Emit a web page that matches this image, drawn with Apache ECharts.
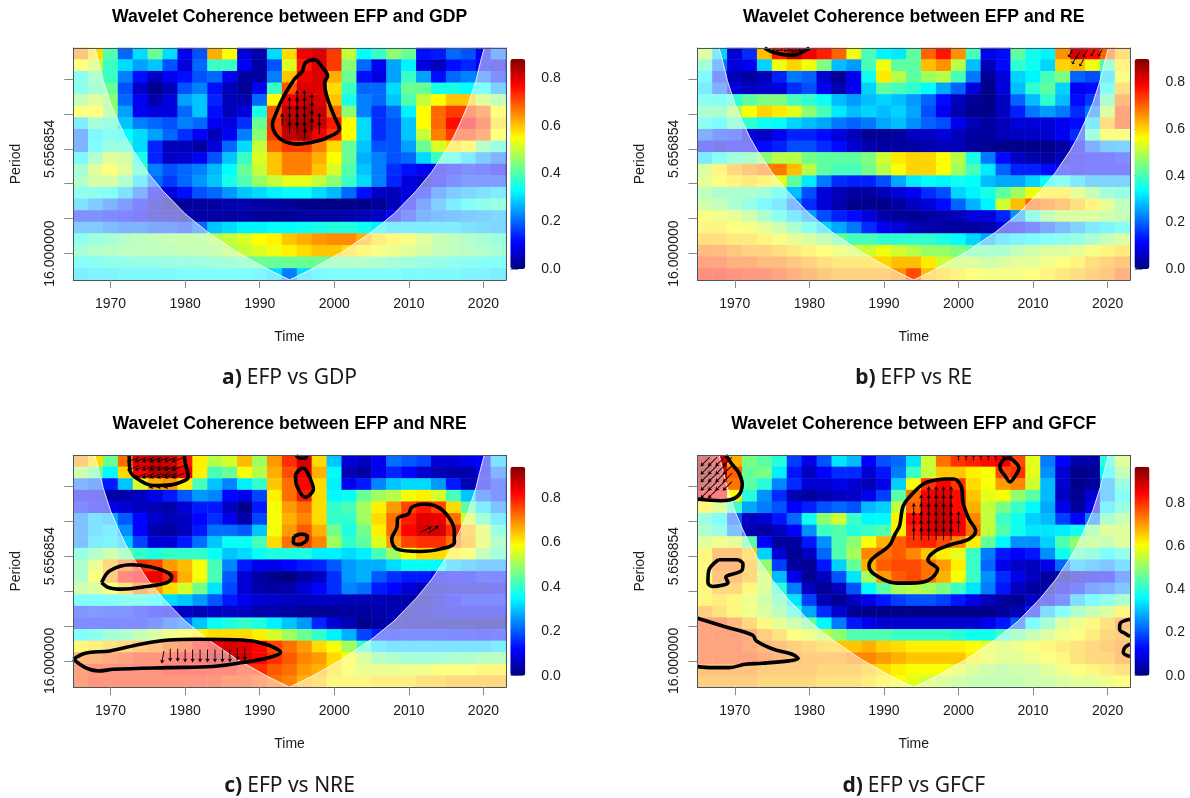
<!DOCTYPE html>
<html><head><meta charset="utf-8">
<style>html,body{margin:0;padding:0;background:#fff}#c{width:1190px;height:798px}</style>
<script src="https://cdn.jsdelivr.net/npm/echarts@6/dist/echarts.min.js"></script>
</head><body><div id="c"></div>
<script>
// Cell bands (centre year of each 2-year column, centre log2(period) of each row)
const yearBands=[1966,1968,1970,1972,1974,1976,1978,1980,1982,1984,1986,1988,1990,1992,1994,1996,1998,2000,2002,2004,2006,2008,2010,2012,2014,2016,2018,2020,2022];
const periodBands=[1.14,1.31,1.47,1.64,1.80,1.97,2.14,2.30,2.47,2.63,2.80,2.97,3.13,3.30,3.46,3.63,3.80,3.96,4.13,4.29];
const xTicks=[1970,1980,1990,2000,2010,2020];
const yTicks=[1.5,2,2.5,3,3.5,4];
const yLabels=[2.5,4];
const barTicks=[0,0.2,0.4,0.6,0.8];
// coherence in hundredths, one row per period band
const gdpCoherence=[
[65,58,40,20,30,42,30,10,18,62,55,8,4,30,58,78,80,72,50,33,38,45,42,12,13,20,18,10,20],
[55,50,38,30,25,28,18,8,20,38,38,10,3,18,52,75,80,72,45,20,10,25,32,8,5,12,14,10,8],
[35,42,38,22,12,6,10,12,18,20,10,3,3,22,60,78,80,62,42,12,8,25,38,25,12,20,22,20,14],
[36,40,42,18,6,1,5,18,22,12,5,2,10,38,70,80,80,58,38,20,20,30,42,42,35,35,33,33,25],
[45,50,45,20,10,4,8,25,28,14,5,4,20,55,78,82,80,60,35,22,20,28,40,50,55,60,60,50,45],
[55,55,45,25,10,8,8,20,28,12,5,8,35,70,82,84,82,68,45,22,15,20,32,55,68,72,72,68,55],
[30,40,38,28,22,20,18,22,20,10,8,15,42,72,84,85,82,75,55,30,15,18,28,55,68,76,78,72,58],
[20,32,35,33,30,25,20,15,10,5,10,22,45,72,82,84,78,72,55,30,15,18,28,50,66,72,72,68,55],
[20,33,38,38,30,14,5,5,3,8,20,30,50,68,72,72,66,58,42,28,18,18,25,42,52,58,56,42,38],
[32,42,50,48,35,14,6,7,10,18,28,38,52,60,66,66,62,55,42,26,22,18,20,30,38,36,30,24,20],
[40,50,55,50,38,22,18,20,22,27,33,42,50,60,66,66,60,52,40,28,22,15,12,10,10,12,14,13,10],
[42,48,48,42,30,20,16,20,24,28,35,40,46,50,53,53,50,45,38,30,22,14,8,6,10,14,16,16,16],
[36,36,34,28,20,10,8,12,18,20,24,28,30,32,33,33,30,27,20,12,6,5,8,12,20,24,26,28,30],
[28,24,20,16,12,6,3,2,3,3,4,4,3,3,2,1,1,1,1,1,2,5,10,18,25,30,34,36,38],
[14,14,13,12,10,6,5,4,3,3,3,3,2,2,2,3,3,3,4,5,6,10,15,20,22,23,24,25,26],
[24,24,22,20,20,18,18,16,20,28,30,32,32,33,33,34,35,36,36,34,32,30,30,30,30,30,28,27,26],
[36,38,40,42,44,45,46,46,46,48,50,52,55,56,60,62,64,65,65,62,58,56,54,50,46,44,42,40,38],
[40,42,43,44,44,44,44,45,45,46,48,50,52,54,56,58,60,60,58,56,54,52,50,48,45,44,43,42,40],
[34,35,36,36,37,37,38,38,38,39,40,41,42,42,42,42,42,42,42,42,41,40,39,38,37,36,35,34,34],
[30,31,31,32,32,32,32,33,33,33,33,33,32,30,22,30,32,33,33,33,33,33,32,32,32,32,31,31,30]];
const reCoherence=[
[50,30,8,15,62,76,85,80,76,70,55,40,33,32,42,70,77,66,40,10,12,42,35,33,66,82,78,70,62],
[40,22,8,10,30,55,60,55,45,28,25,40,55,42,42,62,66,50,28,5,12,38,35,30,60,62,55,40,58],
[33,15,5,3,5,14,22,20,7,2,10,35,58,50,42,48,50,40,22,2,8,30,33,40,45,20,18,30,55],
[30,20,8,6,7,8,15,18,10,4,10,30,42,40,38,34,26,20,8,1,8,28,38,42,30,10,12,35,62],
[36,35,38,42,45,45,40,38,35,28,25,28,30,28,25,20,12,6,2,1,6,20,28,38,28,12,16,42,68],
[42,42,48,56,60,58,54,46,40,32,28,30,28,30,26,18,10,4,1,1,6,14,22,25,22,15,22,50,72],
[36,33,40,38,35,34,30,28,26,22,20,22,26,28,24,20,18,10,5,3,5,8,8,8,10,12,30,62,72],
[20,16,15,8,6,10,14,14,12,8,5,2,2,3,6,6,8,5,3,3,5,6,6,7,10,15,40,55,55],
[10,8,10,10,12,14,18,18,15,12,7,4,3,3,3,4,5,5,3,2,1,1,1,1,3,10,20,25,26],
[30,35,40,42,46,50,50,44,42,42,42,45,52,58,60,60,56,50,36,22,12,6,4,3,5,10,12,12,14],
[50,58,63,66,68,68,62,50,42,40,40,44,50,56,60,60,56,48,40,32,20,14,14,12,12,10,12,12,12],
[52,56,58,60,58,54,42,32,22,15,14,14,18,26,32,34,33,35,34,28,26,26,30,34,36,30,26,26,26],
[45,42,42,42,40,35,28,18,8,5,3,3,5,8,10,15,18,30,33,36,42,48,55,58,58,52,46,40,38],
[48,46,42,38,33,30,22,15,8,4,1,1,1,3,6,8,12,20,27,33,52,62,70,68,66,62,58,52,45],
[55,54,52,48,42,36,30,25,18,14,12,8,4,2,2,3,4,5,8,8,14,24,38,46,50,50,50,48,46],
[58,58,56,55,52,48,42,36,30,26,22,15,10,8,5,4,3,3,3,4,8,10,14,18,22,26,30,32,35],
[62,62,60,60,58,55,52,50,46,42,40,40,38,38,38,38,36,34,30,26,30,32,33,35,36,38,42,46,50],
[68,68,66,64,64,62,60,58,56,54,52,52,55,52,50,47,47,45,42,42,42,46,48,50,50,52,55,58,60],
[72,72,70,70,68,68,66,64,62,60,60,60,60,62,62,58,52,50,50,48,50,52,52,54,56,58,62,64,66],
[76,76,75,74,74,72,70,68,66,64,64,64,64,66,72,62,60,58,56,55,55,55,56,58,60,62,64,66,70]];
const nreCoherence=[
[68,62,45,72,85,88,86,80,60,52,55,65,50,68,78,86,62,30,8,6,10,22,20,18,8,8,10,12,30],
[50,45,35,62,82,88,90,84,60,42,45,58,52,66,75,84,66,35,5,3,10,15,12,8,5,4,4,10,22],
[22,20,14,30,55,66,68,60,42,30,24,34,40,64,72,82,62,34,10,14,24,30,32,32,26,14,5,10,16],
[10,10,4,4,6,10,14,20,26,24,12,10,18,60,72,80,62,35,36,45,50,52,58,60,55,42,30,20,16],
[14,12,10,8,6,5,4,8,14,14,6,1,14,58,68,72,62,40,42,50,60,68,76,80,76,62,44,32,24],
[24,30,28,20,12,7,5,6,12,16,10,4,18,58,66,70,62,40,40,50,62,72,80,85,84,72,55,42,32],
[24,30,32,25,12,4,3,6,14,22,22,20,30,58,68,74,66,46,38,46,60,72,82,86,86,78,65,55,40],
[24,32,33,30,18,8,8,14,22,30,36,36,42,62,72,76,70,50,40,44,56,68,76,78,78,72,66,55,45],
[40,45,50,45,40,38,40,40,40,36,30,32,36,38,38,38,34,34,32,34,42,50,58,62,62,60,58,48,42],
[44,55,66,72,78,76,68,65,58,42,24,14,10,10,12,14,15,20,26,28,28,32,36,36,35,30,28,26,26],
[44,58,68,80,82,84,78,66,58,42,20,8,3,1,0,3,6,16,26,28,20,16,14,14,10,12,12,14,14],
[50,52,58,64,72,68,62,55,46,33,18,8,4,3,4,8,12,16,24,22,14,12,8,6,6,8,8,8,10],
[36,36,36,38,38,36,32,30,26,20,14,10,8,7,6,6,6,6,5,5,5,4,4,5,8,12,14,14,14],
[16,17,16,16,14,12,10,6,5,6,6,6,4,4,3,2,2,2,3,3,4,5,5,6,8,9,10,10,10],
[14,14,14,14,14,16,20,22,30,36,38,40,38,34,30,26,15,8,5,1,3,5,5,5,5,4,4,3,3],
[36,38,42,44,48,52,56,58,60,62,62,62,60,55,50,45,40,34,28,18,14,14,15,15,15,14,14,13,14],
[60,62,64,66,68,70,74,76,80,84,86,85,82,76,72,68,62,58,50,40,32,30,30,30,30,30,30,30,32],
[72,72,74,76,78,78,80,82,84,86,86,86,82,78,74,70,68,62,58,52,46,44,42,42,42,44,44,46,46],
[76,78,78,78,78,78,80,80,80,80,80,78,78,74,72,68,66,62,58,55,55,55,56,56,58,58,58,60,60],
[76,78,78,78,78,78,78,78,78,78,76,76,74,72,70,66,64,60,60,60,62,62,62,64,64,66,66,66,66]];
const gfcfCoherence=[
[92,88,68,48,45,40,18,10,20,34,30,12,20,22,34,56,74,80,82,84,86,78,58,24,12,4,4,40,55],
[94,90,76,46,48,35,14,6,12,16,16,8,14,24,42,55,66,66,62,60,78,80,58,26,8,1,2,36,50],
[92,88,74,45,40,25,16,8,8,10,8,5,10,32,60,80,85,80,64,60,70,72,56,30,8,1,3,28,42],
[85,85,60,40,26,16,5,3,5,6,7,10,18,45,74,86,88,84,66,58,60,50,45,30,6,2,8,28,38],
[62,55,42,28,24,20,12,15,20,22,20,30,32,55,76,88,90,84,68,55,48,42,36,28,10,3,10,34,42],
[42,36,20,6,8,14,22,38,50,56,42,36,36,62,84,88,90,86,72,55,42,38,32,30,18,12,24,45,50],
[45,42,25,5,3,6,12,26,42,44,40,42,44,62,82,88,90,86,74,55,44,38,34,34,35,38,48,55,55],
[55,58,56,45,12,3,3,14,26,44,50,60,68,76,80,82,78,72,62,46,36,26,26,32,44,50,52,50,55],
[62,72,72,66,32,8,2,6,22,44,52,72,74,76,72,66,62,58,42,24,14,12,14,26,38,44,42,36,40],
[62,74,74,68,50,18,3,2,14,32,46,68,76,78,78,74,70,62,42,22,10,7,6,10,22,30,28,26,30],
[62,72,72,68,55,30,10,2,6,20,34,52,70,76,78,74,68,60,42,26,16,10,6,3,4,8,10,12,20],
[62,68,68,62,55,40,24,6,2,6,20,36,45,52,54,52,48,42,34,24,14,6,3,4,10,14,20,22,26],
[62,64,62,58,52,45,34,18,5,2,6,10,14,18,20,20,18,14,10,6,3,2,6,10,16,30,36,40,45],
[70,66,62,58,54,48,40,28,16,8,2,1,1,1,1,1,1,1,1,1,3,5,14,30,38,46,50,54,62],
[78,78,74,68,62,56,52,46,36,24,14,10,8,8,8,8,8,8,8,10,14,20,36,44,54,58,62,66,72],
[78,78,78,76,70,66,60,58,54,50,44,44,44,42,42,42,42,40,38,38,42,46,50,54,58,60,64,68,70],
[78,78,78,76,74,72,70,68,66,66,66,68,65,64,62,62,62,62,60,58,56,58,60,62,64,66,68,70,72],
[78,78,78,78,76,74,72,70,70,70,72,72,70,68,66,66,66,66,62,58,56,56,58,60,62,66,68,68,72],
[72,72,72,72,70,70,70,70,68,68,68,66,64,62,60,60,60,58,54,52,50,52,52,55,58,60,62,64,66],
[70,70,70,70,68,68,68,68,66,66,66,64,62,60,58,56,54,52,50,50,50,50,52,52,54,56,56,58,60]];
// colour scale maxima
const gdpMax=0.88, reMax=0.9, nreMax=0.94, gfcfMax=0.97;
const jetColors=['#00007F','#0000FF','#007FFF','#00FFFF','#7FFF7F','#FFFF00','#FF7F00','#FF0000','#7F0000'];
// cone of influence boundary [year, log2 period]
const coiLeft=[[1967.9,1.057],[1968.5,1.3],[1969,1.52],[1970,1.85],[1971,2.1],[1972,2.33],[1973,2.52],[1975,2.84],[1977,3.1],[1980,3.43],[1983,3.69],[1987,3.98],[1991,4.22],[1994,4.378]];
const coiRight=[[1994,4.378],[1997,4.22],[2001,3.98],[2005,3.69],[2008,3.43],[2011,3.1],[2013,2.84],[2015,2.52],[2016,2.33],[2017,2.1],[2018,1.85],[2019,1.52],[2019.5,1.3],[2020.1,1.057]];
const coiLeftCorners=[[1965,4.378],[1965,1.057]];
const coiRightCorners=[[2023,1.057],[2023,4.378]];
// significance contours [year, log2 period]
const gdpContours=[[[1997,1.224],[1996.1,1.272],[1995.7,1.392],[1994.6,1.511],[1993.1,1.774],[1992.2,1.989],[1991.7,2.156],[1992.2,2.299],[1993.3,2.395],[1994.9,2.433],[1996.9,2.409],[1998.9,2.347],[2000.7,2.213],[2000,2.037],[1999,1.75],[1998.7,1.559],[1999.1,1.454],[1998.3,1.32],[1997.7,1.239],[1997,1.224]]];
const reContours=[[[1974,1.057],[1975.2,1.12],[1977.7,1.16],[1979.5,1.09],[1980,1.057]]];
const nreContours=[
[[1972.5,1.057],[1972.6,1.277],[1974,1.42],[1975.8,1.49],[1978.1,1.48],[1979.9,1.42],[1980.4,1.372],[1980,1.157],[1979.9,1.057]],
[[1994.9,1.057],[1995.4,1.1],[1996.1,1.1],[1996.3,1.057]],
[[1995.6,1.239],[1994.8,1.349],[1995,1.501],[1996.1,1.659],[1997.2,1.54],[1996.7,1.372],[1996.1,1.253],[1995.6,1.239]],
[[1994.6,2.218],[1994.5,2.304],[1995.1,2.333],[1996.1,2.295],[1996.4,2.218],[1995.6,2.185],[1994.6,2.218]],
[[2011.9,1.755],[2010.4,1.802],[2009.9,1.898],[2008.5,1.96],[2008.4,2.089],[2007.7,2.256],[2008.4,2.4],[2011.4,2.433],[2014.2,2.4],[2016.1,2.304],[2016.1,2.137],[2015.2,1.922],[2013.7,1.788],[2011.9,1.755]],
[[1968.8,2.877],[1969.9,2.71],[1972.7,2.624],[1975.3,2.653],[1977.6,2.734],[1978.2,2.806],[1977.6,2.877],[1974.5,2.94],[1971.5,2.973],[1969.7,2.949],[1968.8,2.877]],
[[1965,3.976],[1966.6,3.89],[1969.9,3.857],[1974,3.761],[1977.8,3.7],[1981.6,3.69],[1987.7,3.7],[1990.8,3.761],[1992.8,3.881],[1991.3,3.952],[1987.7,4.024],[1983.7,4.081],[1977.6,4.096],[1970.4,4.12],[1968.4,4.144],[1966.6,4.096],[1965,3.976]]];
const gfcfContours=[
[[1965,1.683],[1968.1,1.707],[1970.3,1.65],[1971,1.468],[1970.5,1.301],[1969.6,1.181],[1968.8,1.057]],
[[2005.95,1.124],[2005.55,1.224],[2006.35,1.367],[2006.9,1.438],[2007.7,1.338],[2008.1,1.238],[2007.3,1.124],[2006.6,1.096],[2005.95,1.124]],
[[1998.1,1.396],[1995.5,1.454],[1993.8,1.611],[1992.6,1.779],[1992.1,2.065],[1991.5,2.185],[1990.7,2.352],[1988.4,2.543],[1988,2.639],[1988.7,2.758],[1991.7,2.887],[1993.5,2.887],[1996,2.844],[1997.2,2.686],[1995.9,2.557],[1996.8,2.433],[1998.8,2.342],[2001.4,2.256],[2002.3,2.137],[2001.4,1.97],[2000.6,1.731],[2000.4,1.516],[1999.4,1.396],[1998.1,1.396]],
[[1967.8,2.553],[1966.5,2.71],[1966.4,2.877],[1967,2.935],[1969.1,2.877],[1968.8,2.806],[1970.9,2.71],[1971.1,2.615],[1970.3,2.553],[1967.8,2.553]],
[[1965,3.389],[1968.6,3.508],[1972.4,3.632],[1972.9,3.714],[1975.2,3.833],[1977.7,3.905],[1978.5,3.967],[1977.2,4],[1973.7,4.034],[1971.4,4.048],[1969.3,4.096],[1967,4.096],[1965,4.082]],
[[2023,3.403],[2021.7,3.46],[2021.6,3.546],[2022.5,3.618],[2023,3.651]],
[[2023,3.761],[2022.3,3.809],[2022.1,3.881],[2023,3.938]]];
// phase arrows [year, log2 period, rotation in degrees counter-clockwise from "up", optional length]
const gdpArrows=[[1993,2.08,0],[1994,1.85,0],[1994,1.97,0],[1994,2.08,0],[1994,2.2,0],[1995,1.75,0],[1995,1.85,0],[1995,1.97,0],[1995,2.08,0],[1995,2.2,0],[1996,1.75,0],[1996,1.85,0],[1996,1.97,0],[1996,2.08,0],[1996,2.2,0],[1996,2.3,-5],[1997,1.8,0],[1997,1.92,0],[1997,2.04,0],[1997,2.16,0],[1998,2.08,0],[1998,2.2,0]];
const reArrows=[[1975,1.09,100,7],[1976,1.09,100,7],[1977,1.09,100,7],[1978,1.1,100,7],[1979,1.09,100,7],[2015,1.14,150,8],[2016,1.16,150,8],[2017,1.14,150,8],[2018,1.13,150,8],[2019,1.13,150,8],[2015.5,1.24,150,8],[2016.5,1.27,150,8]];
const nreArrows=[[1973,1.12,110],[1974,1.12,110],[1975,1.12,110],[1976,1.12,110],[1977,1.12,110],[1978,1.12,110],[1979,1.12,110],[1973,1.24,110],[1974,1.24,110],[1975,1.24,110],[1976,1.24,110],[1977,1.24,110],[1978,1.24,110],[1979,1.24,110],[1974,1.35,110],[1975,1.35,110],[1976,1.35,110],[1977,1.35,110],[1978,1.35,110],[1979,1.35,110],[1976,1.5,100],[1977,1.5,100],[1978,1.5,100],
[1977,3.95,170],[1978,3.92,180],[1979,3.92,180],[1980,3.93,180],[1981,3.93,180],[1982,3.93,180],[1983,3.93,180],[1984,3.93,180],[1985,3.93,180],[1986,3.93,180],[1987,3.9,180],[1988,3.9,180],
[2012.3,2.12,-65],[2013.3,2.12,-55]];
const gfcfArrows=[[1966,1.15,135],[1967,1.15,135],[1968,1.15,135],[1969,1.15,135],[1966,1.27,135],[1967,1.27,135],[1968,1.27,135],[1969,1.27,135],[1966,1.38,135],[1967,1.38,135],[1968,1.38,135],[1969,1.38,135],[1966,1.5,135],[1967,1.5,135],[1968,1.5,135],[1969,1.5,135],[1966,1.61,135],[1967,1.61,135],
[1994,1.83,0],[1994,1.95,0],[1994,2.07,0],[1994,2.18,0],[1995,1.71,0],[1995,1.83,0],[1995,1.95,0],[1995,2.07,0],[1995,2.18,0],[1996,1.59,0],[1996,1.71,0],[1996,1.83,0],[1996,1.95,0],[1996,2.07,0],[1996,2.18,0],[1997,1.59,0],[1997,1.71,0],[1997,1.83,0],[1997,1.95,0],[1997,2.07,0],[1997,2.18,0],[1998,1.59,0],[1998,1.71,0],[1998,1.83,0],[1998,1.95,0],[1998,2.07,0],[1998,2.18,0],[1999,1.59,0],[1999,1.71,0],[1999,1.83,0],[1999,1.95,0],[1999,2.07,0],[1999,2.18,0],[2000,1.95,0],[2000,2.07,0],
[2000,1.095,0,5],[2001,1.095,0,5],[2002,1.095,0,5],[2003,1.095,0,5],[2004,1.095,0,5],[2005,1.095,0,5],[2006,1.095,0,5],[2007,1.095,0,5]];
const panelNames=['GDP','RE','NRE','GFCF'];
const panelTags=['a)','b)','c)','d)'];

const Y0=1.057,Y1=4.378;
const FONT='"Liberation Sans",Arial,sans-serif';
const INK='#1a1a1a',TICK='#8a8a8a',FRAME='#4a5560';
const layout=[
 {l:73.3,t:48,bl:510.3,bt:59,bh:210},
 {l:697.5,t:48,bl:1134.5,bt:59,bh:210},
 {l:73.3,t:455.3,bl:510.3,bt:466.7,bh:209},
 {l:697.5,t:455.3,bl:1134.5,bt:466.7,bh:209}];
const W=432.5,H=232;
const panels=[
 {cells:gdpCoherence,max:gdpMax,contours:gdpContours,arrows:gdpArrows},
 {cells:reCoherence,max:reMax,contours:reContours,arrows:reArrows},
 {cells:nreCoherence,max:nreMax,contours:nreContours,arrows:nreArrows},
 {cells:gfcfCoherence,max:gfcfMax,contours:gfcfContours,arrows:gfcfArrows}];

const grid=[],xAxis=[],yAxis=[],series=[],visualMap=[],title=[];
const ARROW='path://M5 0 L10 12 L6 10 L6 40 L4 40 L4 10 L0 12 Z';
panels.forEach((p,i)=>{
  const L=layout[i],g=grid.length;
  grid.push({left:L.l,top:L.t,width:W,height:H});
  grid.push({left:L.bl,top:L.bt,width:15,height:L.bh});
  const xc=xAxis.length,yc=yAxis.length;
  // hidden band axes for the cells, drawing the top and right of the box
  xAxis.push({gridIndex:g,type:'category',data:yearBands.map(String),position:'top',z:10,
    axisLine:{show:true,lineStyle:{color:FRAME}},axisTick:{show:false},axisLabel:{show:false},splitLine:{show:false}});
  yAxis.push({gridIndex:g,type:'category',data:periodBands.map(String),inverse:true,position:'right',z:10,
    axisLine:{show:true,lineStyle:{color:FRAME}},axisTick:{show:false},axisLabel:{show:false},splitLine:{show:false}});
  // visible value axes
  xAxis.push({gridIndex:g,type:'value',min:1965,max:2023,position:'bottom',z:10,name:'Time',nameLocation:'middle',nameGap:50,
    nameTextStyle:{fontFamily:FONT,fontSize:14,color:INK},
    axisLine:{show:true,lineStyle:{color:FRAME}},axisTick:{show:true,length:8,customValues:xTicks,lineStyle:{color:TICK}},
    axisLabel:{customValues:xTicks,margin:17,fontFamily:FONT,fontSize:14,color:INK,formatter:v=>String(v)},splitLine:{show:false}});
  yAxis.push({gridIndex:g,type:'value',min:Y0,max:Y1,inverse:true,position:'left',z:10,name:'Period',nameLocation:'middle',nameGap:50,nameRotate:90,
    nameTextStyle:{fontFamily:FONT,fontSize:14,color:INK},
    axisLine:{show:true,lineStyle:{color:FRAME}},axisTick:{show:true,length:9,customValues:yTicks,lineStyle:{color:TICK}},
    axisLabel:{customValues:yLabels,rotate:90,margin:16,fontFamily:FONT,fontSize:14,color:INK,formatter:v=>Math.pow(2,v).toFixed(6)},splitLine:{show:false}});
  // colour bar axis
  xAxis.push({gridIndex:g+1,type:'value',show:false,min:0,max:1});
  yAxis.push({gridIndex:g+1,type:'value',min:0,max:p.max,position:'right',
    axisLine:{show:false},axisTick:{show:true,length:8,customValues:barTicks,lineStyle:{color:TICK}},
    axisLabel:{customValues:barTicks,margin:16,fontFamily:FONT,fontSize:14,color:INK,formatter:v=>v.toFixed(1)},splitLine:{show:false}});
  const cellData=[];
  p.cells.forEach((row,r)=>row.forEach((v,c)=>cellData.push([c,r,v/100])));
  const hs=series.length;
  series.push({type:'heatmap',xAxisIndex:xc,yAxisIndex:yc,data:cellData,silent:true,z:1,progressive:0,itemStyle:{borderWidth:0}});
  visualMap.push({type:'continuous',seriesIndex:hs,min:0,max:p.max,dimension:2,inRange:{color:jetColors},
    left:L.bl,top:L.bt,itemWidth:15,itemHeight:L.bh,padding:0,calculable:false,hoverLink:false,text:null,show:true,realtime:false});
  [[coiLeft,coiLeftCorners],[coiRight,coiRightCorners]].forEach(([edge,corners])=>{
    const pts=edge.concat(corners);
    series.push({type:'custom',xAxisIndex:xc+1,yAxisIndex:yc+1,data:pts,silent:true,z:2,clip:true,encode:{x:0,y:1},
      renderItem:(params,api)=>{
        if(params.dataIndex!==0) return null;
        return {type:'group',children:[
          {type:'polygon',shape:{points:pts.map(q=>api.coord(q))},style:{fill:'rgba(255,255,255,0.5)',stroke:null}},
          {type:'polyline',shape:{points:edge.map(q=>api.coord(q))},style:{fill:null,stroke:'rgba(255,255,255,0.85)',lineWidth:1}}
        ]};
      }});
  });
  p.contours.forEach(c=>series.push({type:'line',xAxisIndex:xc+1,yAxisIndex:yc+1,data:c,showSymbol:false,symbol:'none',smooth:0.35,silent:true,z:4,clip:true,
    lineStyle:{color:'#000',width:3.6}}));
  series.push({type:'scatter',xAxisIndex:xc+1,yAxisIndex:yc+1,data:p.arrows,symbol:ARROW,symbolSize:v=>[4.5,v[3]||13],symbolRotate:v=>v[2],silent:true,z:5,clip:true,
    itemStyle:{color:'#000',opacity:1},encode:{x:0,y:1}});
});
panelNames.forEach((n,i)=>{
  const L=layout[i],cx=L.l+W/2-5;
  title.push({text:'Wavelet Coherence between EFP and '+n,left:cx,top:L.t-45,textAlign:'center',
    textStyle:{fontFamily:FONT,fontSize:17.6,fontWeight:'bold',color:'#000'}});
  title.push({text:'{b|'+panelTags[i]+'} {n|EFP vs '+n+'}',left:cx,top:L.t+315,textAlign:'center',
    textStyle:{fontWeight:'normal',rich:{b:{fontFamily:'"Noto Sans"',fontSize:21,fontWeight:'bold',color:INK},n:{fontFamily:'"Noto Sans"',fontSize:21,fontWeight:'normal',color:INK}}}});
});
const chart=echarts.init(document.getElementById('c'),null,{renderer:'canvas'});
chart.setOption({animation:false,backgroundColor:'#fff',title,grid,xAxis,yAxis,visualMap,series});
</script></body></html>
